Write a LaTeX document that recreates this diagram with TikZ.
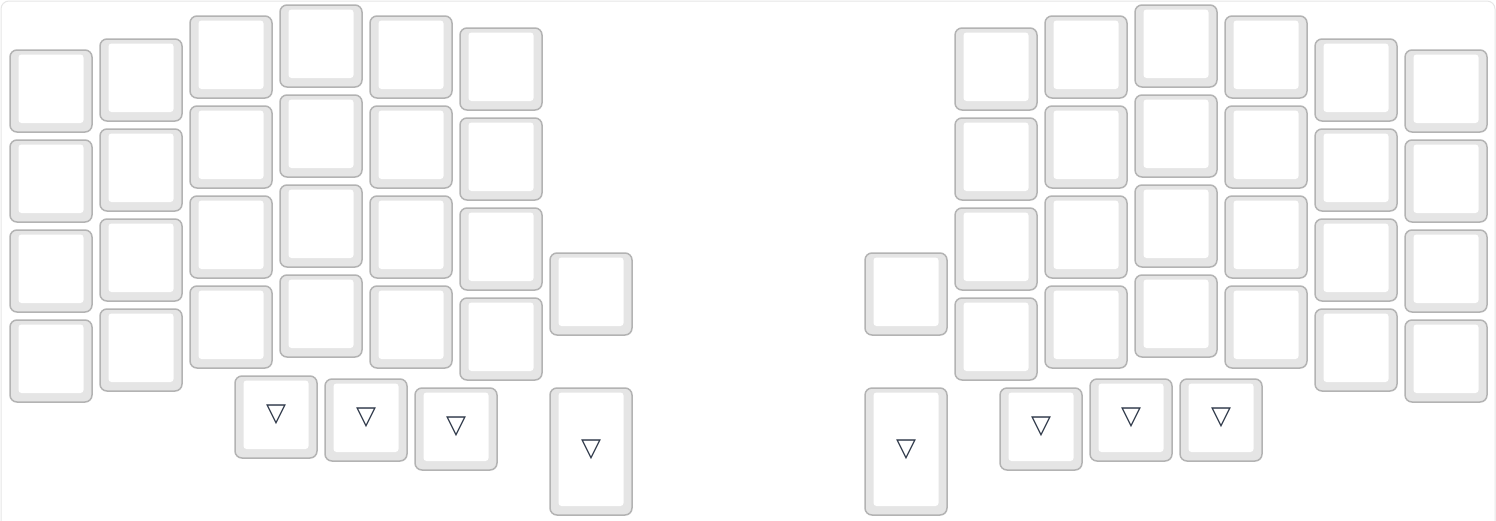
\documentclass[tikz,border=0pt]{standalone}
\usepackage{fontspec}
\newfontfamily\symfont{DejaVu Sans}
\definecolor{keyedge}{HTML}{B3B3B3}
\definecolor{keyside}{HTML}{E5E5E5}
\definecolor{keytop}{HTML}{FFFFFF}
\definecolor{legend}{HTML}{2D3748}
\definecolor{frame}{HTML}{E6E6E6}
\newcommand{\keycap}[5]{%
  \draw[keyout] (#2,#3) rectangle (#2+82,#3+#4);
  \fill[keyin] (#2+8.5,#3+4.5) rectangle (#2+73.5,#3+#4-9);
  \node[keylabel] (#1) at (#2+41,{#3+(#4-4.5)/2}) {#5};
}
\begin{document}
\begin{tikzpicture}[x=1pt,y=-1pt,
  keyout/.style={draw=keyedge, fill=keyside, line width=1.5pt, rounded corners=7pt},
  keyin/.style={fill=keytop, rounded corners=3pt},
  keylabel/.style={inner sep=0pt, text=legend, font=\symfont\fontsize{26}{26}\selectfont},
  frameline/.style={draw=frame, line width=1pt, rounded corners=8pt}]
\useasboundingbox (0,0) rectangle (1496,520);
\fill[white] (0,0) rectangle (1496,520);
\draw[frameline] (1,1) rectangle (1495,530);
% left half main matrix
\foreach \c/\x/\y in {0/10/50,1/100/39,2/190/16,3/280/5,4/370/16,5/460/28}{
  \foreach \r in {0,1,2,3}{
    \keycap{L\c\r}{\x}{\y+90*\r}{82}{}
  }
}
\keycap{L60}{550}{253}{82}{}
\keycap{LT3}{550}{388}{127}{▽}
\keycap{LT0}{235}{376}{82}{▽}
\keycap{LT1}{325}{379}{82}{▽}
\keycap{LT2}{415}{388}{82}{▽}
% right half main matrix
\foreach \c/\x/\y in {0/1405/50,1/1315/39,2/1225/16,3/1135/5,4/1045/16,5/955/28}{
  \foreach \r in {0,1,2,3}{
    \keycap{R\c\r}{\x}{\y+90*\r}{82}{}
  }
}
\keycap{R60}{865}{253}{82}{}
\keycap{RT3}{865}{388}{127}{▽}
\keycap{RT2}{1000}{388}{82}{▽}
\keycap{RT1}{1090}{379}{82}{▽}
\keycap{RT0}{1180}{379}{82}{▽}
\end{tikzpicture}
\end{document}
